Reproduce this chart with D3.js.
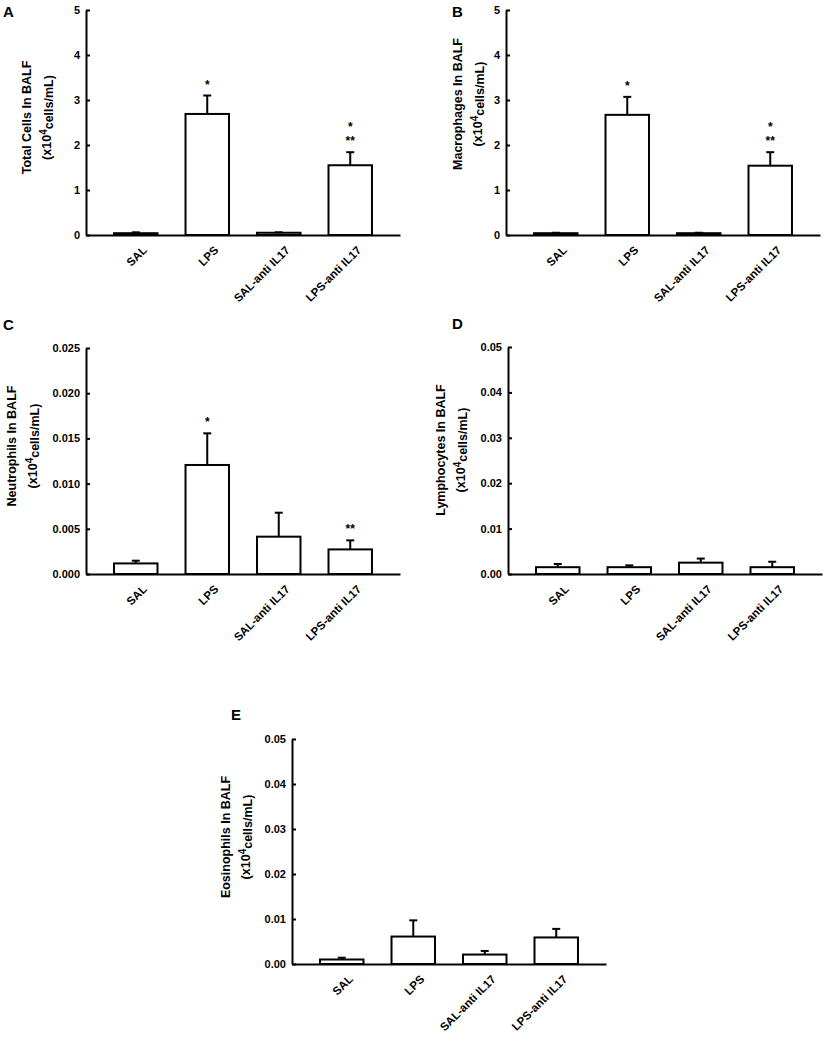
<!DOCTYPE html>
<html>
<head>
<meta charset="utf-8">
<script src="https://cdn.jsdelivr.net/npm/d3@7"></script>
<style>
  html, body { margin: 0; padding: 0; background: #fff; }
  svg { display: block; font-family: "Liberation Sans", Arial, sans-serif; }
</style>
</head>
<body>
<svg id="chart" width="829" height="1046"></svg>
<script>
// ---------- data ----------
const categories = ["SAL", "LPS", "SAL-anti IL17", "LPS-anti IL17"];

const totalMean = [0.04, 2.69, 0.05, 1.55];
const totalSem  = [0.02, 0.41, 0.01, 0.29];

const macroMean = [0.04, 2.67, 0.04, 1.54];
const macroSem  = [0.01, 0.40, 0.01, 0.30];

const neutMean = [0.00117, 0.01206, 0.00413, 0.00272];
const neutSem  = [0.00030, 0.00350, 0.00265, 0.00100];

const lymphMean = [0.0015, 0.0015, 0.0025, 0.0015];
const lymphSem  = [0.0007, 0.0004, 0.0009, 0.0012];

const eosMean = [0.0010, 0.0061, 0.0021, 0.0059];
const eosSem  = [0.0004, 0.0036, 0.0008, 0.0019];

const ticksCells = [0, 1, 2, 3, 4, 5];
const ticksNeut  = [0, 0.005, 0.010, 0.015, 0.020, 0.025];
const ticksSmall = [0, 0.01, 0.02, 0.03, 0.04, 0.05];

// significance marks (top line first) per category
const starsAB = [[], ["*"], [], ["*", "**"]];
const starsC  = [[], ["*"], [], ["**"]];
const starsNone = [[], [], [], []];

const titles = ["Total Cells In BALF", "Macrophages In BALF", "Neutrophils In BALF",
                "Lymphocytes In BALF", "Eosinophils In BALF"];
const letters = ["A", "B", "C", "D", "E"];

// ---------- layout ----------
const panels = [
  {mean: totalMean, sem: totalSem, ticks: ticksCells, fmt: d3.format("d"), stars: starsAB,
   x0: 86, top: 10, bottom: 235, lx: 3, ly: 17, t1: 27, t2: 47, tcy: 117.5},
  {mean: macroMean, sem: macroSem, ticks: ticksCells, fmt: d3.format("d"), stars: starsAB,
   x0: 506, top: 10, bottom: 235, lx: 452, ly: 17, t1: 458, t2: 478, tcy: 104},
  {mean: neutMean, sem: neutSem, ticks: ticksNeut, fmt: d3.format(".3f"), stars: starsC,
   x0: 86, top: 348, bottom: 574, lx: 3, ly: 330, t1: 12, t2: 33, tcy: 446},
  {mean: lymphMean, sem: lymphSem, ticks: ticksSmall, fmt: d3.format(".2f"), stars: starsNone,
   x0: 508, top: 347, bottom: 574, lx: 452, ly: 329, t1: 441, t2: 461, tcy: 450},
  {mean: eosMean, sem: eosSem, ticks: ticksSmall, fmt: d3.format(".2f"), stars: starsNone,
   x0: 292, top: 739, bottom: 964, lx: 231, ly: 720, t1: 226, t2: 246, tcy: 837}
];
const plotW = 314;
const starGap = 14;

const svg = d3.select("#chart");

panels.forEach((p, i) => {
  const g = svg.append("g");
  const x = d3.scaleBand().domain(categories).range([p.x0, p.x0 + plotW])
    .paddingInner(0.392).paddingOuter(0.392);
  const y = d3.scaleLinear().domain([p.ticks[0], p.ticks[p.ticks.length - 1]])
    .range([p.bottom, p.top]);

  const rows = categories.map((c, k) => ({c, m: p.mean[k], s: p.sem[k], stars: p.stars[k]}));

  // bars
  g.selectAll("rect.bar").data(rows).join("rect")
    .attr("x", d => x(d.c))
    .attr("y", d => y(d.m))
    .attr("width", x.bandwidth())
    .attr("height", d => y(0) - y(d.m))
    .attr("fill", "#fff").attr("stroke", "#000").attr("stroke-width", 2);

  // error bars (upper)
  const eb = g.selectAll("g.err").data(rows).join("g");
  eb.append("line")
    .attr("x1", d => x(d.c) + x.bandwidth() / 2).attr("x2", d => x(d.c) + x.bandwidth() / 2)
    .attr("y1", d => y(d.m)).attr("y2", d => y(d.m + d.s))
    .attr("stroke", "#000").attr("stroke-width", 2);
  eb.append("line")
    .attr("x1", d => x(d.c) + x.bandwidth() / 2 - 4).attr("x2", d => x(d.c) + x.bandwidth() / 2 + 4)
    .attr("y1", d => y(d.m + d.s)).attr("y2", d => y(d.m + d.s))
    .attr("stroke", "#000").attr("stroke-width", 2);

  // significance stars (stacked lines)
  rows.forEach(d => {
    const n = d.stars.length;
    const cx = x(d.c) + x.bandwidth() / 2;
    d.stars.forEach((s, j) => {
      g.append("text")
        .attr("x", cx)
        .attr("y", y(d.m + d.s) - starGap - (n - 1 - j) * starGap + 7)
        .attr("text-anchor", "middle")
        .attr("font-size", 12).attr("font-weight", "bold")
        .text(s);
    });
  });

  // y axis
  const ya = g.append("g").attr("transform", `translate(${p.x0},0)`)
    .call(d3.axisLeft(y).tickValues(p.ticks).tickFormat(p.fmt)
      .tickSizeInner(-4).tickSizeOuter(0).tickPadding(6));
  ya.select(".domain").attr("stroke-width", 2);
  ya.selectAll(".tick line").attr("stroke-width", 2);
  ya.selectAll(".tick text").attr("font-size", 11).attr("font-weight", "bold")
    .attr("font-family", "'Liberation Sans', Arial, sans-serif").attr("fill", "#000");

  // x axis
  const xa = g.append("g").attr("transform", `translate(0,${p.bottom})`)
    .call(d3.axisBottom(x).tickSizeInner(0).tickSizeOuter(0));
  xa.select(".domain").attr("stroke-width", 2);
  xa.selectAll(".tick text")
    .attr("y", 0).attr("dy", "0.35em")
    .attr("text-anchor", "end")
    .attr("transform", "translate(9,13) rotate(-45)")
    .attr("font-size", 11.5).attr("font-weight", "bold")
    .attr("font-family", "'Liberation Sans', Arial, sans-serif").attr("fill", "#000");

  // y title (two lines)
  g.append("text")
    .attr("transform", `translate(${p.t1},${p.tcy}) rotate(-90)`)
    .attr("text-anchor", "middle").attr("dy", "0.35em")
    .attr("font-size", 12.5).attr("font-weight", "bold")
    .text(titles[i]);
  const t2 = g.append("text")
    .attr("transform", `translate(${p.t2},${p.tcy}) rotate(-90)`)
    .attr("text-anchor", "middle").attr("dy", "0.35em")
    .attr("font-size", 12.5).attr("font-weight", "bold");
  t2.append("tspan").text("(x10");
  t2.append("tspan").attr("dy", "-0.45em").attr("font-size", 10).text("4");
  t2.append("tspan").attr("dy", "0.45em").text("cells/mL)");

  // panel letter
  g.append("text").attr("x", p.lx).attr("y", p.ly)
    .attr("font-size", 15).attr("font-weight", "bold").text(letters[i]);
});
</script>
</body>
</html>
